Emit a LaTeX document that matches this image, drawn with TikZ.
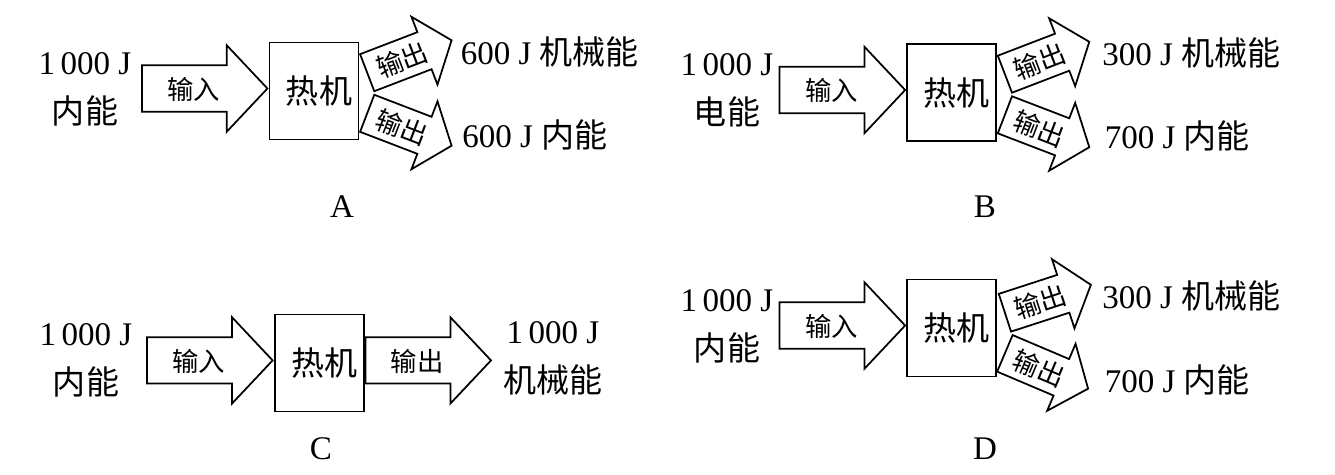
\documentclass[tikz,border=0pt]{standalone}
\usepackage{fontspec}
\setmainfont{Liberation Serif}
\newfontfamily\cjk{Noto Sans CJK SC}
\usetikzlibrary{shapes.arrows,calc}

\tikzset{
  engine/.style={draw, line width=1pt, minimum width=1.78cm, minimum height=1.94cm,
    inner sep=0pt, font=\cjk\fontsize{18.8}{28}\selectfont},
  flow/.style={single arrow, draw, line width=1pt, inner xsep=0pt, inner ysep=0.165cm,
    text width=2.04cm, align=center, text height=14.1pt, text depth=1.9pt,
    single arrow head extend=0.40cm, single arrow tip angle=93.5,
    font=\cjk\fontsize{15}{18}\selectfont},
  flowout/.style={flow, inner ysep=0.098cm, text width=1.456cm,
    single arrow head extend=0.33cm, single arrow tip angle=102.7},
  amount/.style={inner sep=0pt, align=center, font=\fontsize{18.8}{28}\selectfont},
  tag/.style={inner sep=0pt, font=\fontsize{18.8}{28}\selectfont}
}

\begin{document}
\begin{tikzpicture}[x=0.02cm, y=-0.02cm]
  \useasboundingbox (0,0) rectangle (1335,474);

  % A
  \node (boxA) at (314,91) [engine] {\hspace{0.2cm}热机};
  \node (inA) at ($(boxA.west)+(0,-2.5)$) [flow, anchor=tip] {输入};
  \node (outA1) at ($(boxA.east)+(7,-18)$) [flowout, anchor=tail, rotate=21] {输出};
  \node (outA2) at ($(boxA.east)+(7,22)$) [flowout, anchor=tail, rotate=-21] {输出};
  \node (srcA) at (85,89.2) [amount] {1\,000 J\\{\cjk 内能}};
  \node (mechA) at (460.5,51.7) [amount, anchor=west] {600 J {\cjk 机械能}};
  \node (heatA) at (462,135) [amount, anchor=west] {600 J {\cjk 内能}};
  \node (labA) at (342,206.7) [tag] {A};

  % B
  \node (boxB) at (951.7,92.5) [engine] {\hspace{0.2cm}热机};
  \node (inB) at ($(boxB.west)+(0,-2.5)$) [flow, anchor=tip] {输入};
  \node (outB1) at ($(boxB.east)+(7,-18)$) [flowout, anchor=tail, rotate=21] {输出};
  \node (outB2) at ($(boxB.east)+(7,22)$) [flowout, anchor=tail, rotate=-21] {输出};
  \node (srcB) at (727,90) [amount] {1\,000 J\\{\cjk 电能}};
  \node (mechB) at (1102,53) [amount, anchor=west] {300 J {\cjk 机械能}};
  \node (heatB) at (1104.5,136) [amount, anchor=west] {700 J {\cjk 内能}};
  \node (labB) at (985,206.7) [tag] {B};

  % C
  \node (boxC) at (319.2,362.9) [engine] {\hspace{0.2cm}热机};
  \node (inC) at ($(boxC.west)+(0,-2.5)$) [flow, anchor=tip] {输入};
  \node (outC) at ($(boxC.east)+(0,-2.5)$) [flow, anchor=tail] {输出};
  \node (srcC) at (86,360.5) [amount] {1\,000 J\\{\cjk 内能}};
  \node (mechC) at (553,358.4) [amount] {1\,000 J\\{\cjk 机械能}};
  \node (labC) at (321,448.3) [tag] {C};

  % D
  \node (boxD) at (951.7,328) [engine] {\hspace{0.2cm}热机};
  \node (inD) at ($(boxD.west)+(0,-2.5)$) [flow, anchor=tip] {输入};
  \node (outD1) at ($(boxD.east)+(7,-15)$) [flowout, anchor=tail, rotate=18] {输出};
  \node (outD2) at ($(boxD.east)+(7,25)$) [flowout, anchor=tail, rotate=-23] {输出};
  \node (srcD) at (727,326.5) [amount] {1\,000 J\\{\cjk 内能}};
  \node (mechD) at (1102,296) [amount, anchor=west] {300 J {\cjk 机械能}};
  \node (heatD) at (1104.5,380) [amount, anchor=west] {700 J {\cjk 内能}};
  \node (labD) at (985,448.3) [tag] {D};
\end{tikzpicture}
\end{document}
